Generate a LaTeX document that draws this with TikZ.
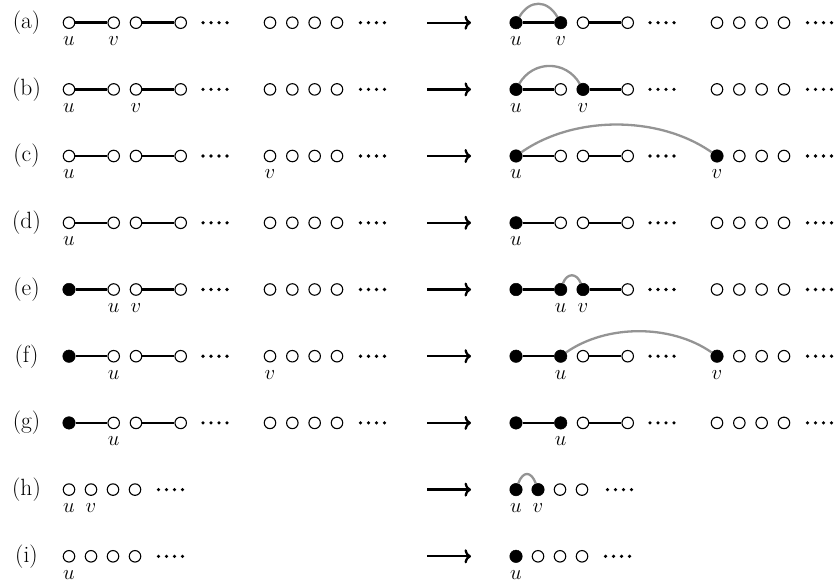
\documentclass[tikz,border=0pt]{standalone}
\usepackage{fontspec}
\usetikzlibrary{arrows.meta}
\tikzset{
  op/.style={circle, draw, line width=1.1pt, fill=white, inner sep=0pt, minimum size=11.5pt},
  fl/.style={circle, fill=black, draw=black, line width=0.5pt, inner sep=0pt, minimum size=12.5pt},
  edge/.style={line width=2.4pt},
  arcg/.style={line width=2.3pt, draw=black!42},
  lab/.style={inner sep=0pt, font=\fontsize{20.74}{24}\selectfont},
  rowlab/.style={inner sep=0pt, font=\fontsize{23.5}{26}\selectfont},
  bigarrow/.style={line width=2.3pt, -{To[length=6.5pt,width=14pt]}},
}
% chain of four nodes: prefix, y, x0, styles
\newcommand\mychain[7]{%
  \node[#4] (#1c1) at (#3,#2) {};
  \node[#5] (#1c2) at ({#3+44.7},#2) {};
  \node[#6] (#1c3) at ({#3+67},#2) {};
  \node[#7] (#1c4) at ({#3+111.7},#2) {};
  \draw[edge] (#1c1) -- (#1c2);
  \draw[edge] (#1c3) -- (#1c4);
  \foreach \k in {0,...,3} \fill ({#3+134+8*\k},#2) circle (1.8);
}
% four single nodes: prefix, y, x0, style of first, pitch
\newcommand\myfour[5]{%
  \node[#4] (#1q1) at (#3,#2) {};
  \foreach \k in {2,3,4} \node[op] (#1q\k) at ({#3+#5*(\k-1)},#2) {};
  \foreach \k in {0,...,3} \fill ({#3+3*#5+23.5+8*\k},#2) circle (1.8);
}
\newcommand\myarrow[2]{%
  \coordinate (#1s) at (427,#2);
  \coordinate (#1e) at (471,#2);
  \draw[bigarrow] (#1s) -- (#1e);
}
\begin{document}
\begin{tikzpicture}[x=1pt,y=-1pt]
\useasboundingbox (0,0) rectangle (834,583);
% ---------- (a)
\def\Y{22.7}
\node[rowlab] (ra) at (26.5,\Y) {(a)};
\mychain{aL}{\Y}{69}{op}{op}{op}{op}
\myfour{aL}{\Y}{270}{op}{22.33}
\node[lab] (aLu) at ([yshift=-18.5pt]aLc1.center) {$u$};
\node[lab] (aLv) at ([yshift=-18.5pt]aLc2.center) {$v$};
\myarrow{aA}{\Y}
\mychain{aR}{\Y}{516}{fl}{fl}{op}{op}
\myfour{aR}{\Y}{717}{op}{22.33}
\node[lab] (aRu) at ([yshift=-18.5pt]aRc1.center) {$u$};
\node[lab] (aRv) at ([yshift=-18.5pt]aRc2.center) {$v$};
\draw[arcg] (aRc1) .. controls +(-60:27) and +(-120:27) .. (aRc2);
% ---------- (b)
\def\Y{89.4}
\node[rowlab] (rb) at (26.5,\Y) {(b)};
\mychain{bL}{\Y}{69}{op}{op}{op}{op}
\myfour{bL}{\Y}{270}{op}{22.33}
\node[lab] (bLu) at ([yshift=-18.5pt]bLc1.center) {$u$};
\node[lab] (bLv) at ([yshift=-18.5pt]bLc3.center) {$v$};
\myarrow{bA}{\Y}
\mychain{bR}{\Y}{516}{fl}{op}{fl}{op}
\myfour{bR}{\Y}{717}{op}{22.33}
\node[lab] (bRu) at ([yshift=-18.5pt]bRc1.center) {$u$};
\node[lab] (bRv) at ([yshift=-18.5pt]bRc3.center) {$v$};
\draw[arcg] (bRc1) .. controls +(-60:34) and +(-120:34) .. (bRc3);
% ---------- (c)
\def\Y{156}
\node[rowlab] (rc) at (26.5,\Y) {(c)};
\mychain{cL}{\Y}{69}{op}{op}{op}{op}
\myfour{cL}{\Y}{270}{op}{22.33}
\node[lab] (cLu) at ([yshift=-18.5pt]cLc1.center) {$u$};
\node[lab] (cLv) at ([yshift=-18.5pt]cLq1.center) {$v$};
\myarrow{cA}{\Y}
\mychain{cR}{\Y}{516}{fl}{op}{op}{op}
\myfour{cR}{\Y}{717}{fl}{22.33}
\node[lab] (cRu) at ([yshift=-18.5pt]cRc1.center) {$u$};
\node[lab] (cRv) at ([yshift=-18.5pt]cRq1.center) {$v$};
\draw[arcg] (cRc1) .. controls +(-35:71) and +(-145:71) .. (cRq1);
% ---------- (d)
\def\Y{222.8}
\node[rowlab] (rd) at (26.5,\Y) {(d)};
\mychain{dL}{\Y}{69}{op}{op}{op}{op}
\myfour{dL}{\Y}{270}{op}{22.33}
\node[lab] (dLu) at ([yshift=-18.5pt]dLc1.center) {$u$};
\myarrow{dA}{\Y}
\mychain{dR}{\Y}{516}{fl}{op}{op}{op}
\myfour{dR}{\Y}{717}{op}{22.33}
\node[lab] (dRu) at ([yshift=-18.5pt]dRc1.center) {$u$};
% ---------- (e)
\def\Y{289.5}
\node[rowlab] (re) at (26.5,\Y) {(e)};
\mychain{eL}{\Y}{69}{fl}{op}{op}{op}
\myfour{eL}{\Y}{270}{op}{22.33}
\node[lab] (eLu) at ([yshift=-18.5pt]eLc2.center) {$u$};
\node[lab] (eLv) at ([yshift=-18.5pt]eLc3.center) {$v$};
\myarrow{eA}{\Y}
\mychain{eR}{\Y}{516}{fl}{fl}{fl}{op}
\myfour{eR}{\Y}{717}{op}{22.33}
\node[lab] (eRu) at ([yshift=-18.5pt]eRc2.center) {$u$};
\node[lab] (eRv) at ([yshift=-18.5pt]eRc3.center) {$v$};
\draw[arcg] (eRc2) .. controls +(-70:18) and +(-110:18) .. (eRc3);
% ---------- (f)
\def\Y{356.2}
\node[rowlab] (rf) at (26.5,\Y) {(f)};
\mychain{fL}{\Y}{69}{fl}{op}{op}{op}
\myfour{fL}{\Y}{270}{op}{22.33}
\node[lab] (fLu) at ([yshift=-18.5pt]fLc2.center) {$u$};
\node[lab] (fLv) at ([yshift=-18.5pt]fLq1.center) {$v$};
\myarrow{fA}{\Y}
\mychain{fR}{\Y}{516}{fl}{fl}{op}{op}
\myfour{fR}{\Y}{717}{fl}{22.33}
\node[lab] (fRu) at ([yshift=-18.5pt]fRc2.center) {$u$};
\node[lab] (fRv) at ([yshift=-18.5pt]fRq1.center) {$v$};
\draw[arcg] (fRc2) .. controls +(-35:56) and +(-145:56) .. (fRq1);
% ---------- (g)
\def\Y{422.9}
\node[rowlab] (rg) at (26.5,\Y) {(g)};
\mychain{gL}{\Y}{69}{fl}{op}{op}{op}
\myfour{gL}{\Y}{270}{op}{22.33}
\node[lab] (gLu) at ([yshift=-18.5pt]gLc2.center) {$u$};
\myarrow{gA}{\Y}
\mychain{gR}{\Y}{516}{fl}{fl}{op}{op}
\myfour{gR}{\Y}{717}{op}{22.33}
\node[lab] (gRu) at ([yshift=-18.5pt]gRc2.center) {$u$};
% ---------- (h)
\def\Y{489.6}
\node[rowlab] (rh) at (26.5,\Y) {(h)};
\myfour{hL}{\Y}{69}{op}{22}
\node[lab] (hLu) at ([yshift=-18.5pt]hLq1.center) {$u$};
\node[lab] (hLv) at ([yshift=-18.5pt]hLq2.center) {$v$};
\myarrow{hA}{\Y}
\node[fl] (hRq1) at (516,\Y) {};
\node[fl] (hRq2) at (538,\Y) {};
\node[op] (hRq3) at (560,\Y) {};
\node[op] (hRq4) at (582,\Y) {};
\foreach \k in {0,...,3} \fill ({607.5+8*\k},\Y) circle (1.8);
\node[lab] (hRu) at ([yshift=-18.5pt]hRq1.center) {$u$};
\node[lab] (hRv) at ([yshift=-18.5pt]hRq2.center) {$v$};
\draw[arcg] (hRq1) .. controls +(-70:20) and +(-110:20) .. (hRq2);
% ---------- (i)
\def\Y{556.3}
\node[rowlab] (ri) at (26.5,\Y) {(i)};
\myfour{iL}{\Y}{69}{op}{22}
\node[lab] (iLu) at ([yshift=-18.5pt]iLq1.center) {$u$};
\myarrow{iA}{\Y}
\myfour{iR}{\Y}{516}{fl}{22}
\node[lab] (iRu) at ([yshift=-18.5pt]iRq1.center) {$u$};
\end{tikzpicture}
\end{document}
